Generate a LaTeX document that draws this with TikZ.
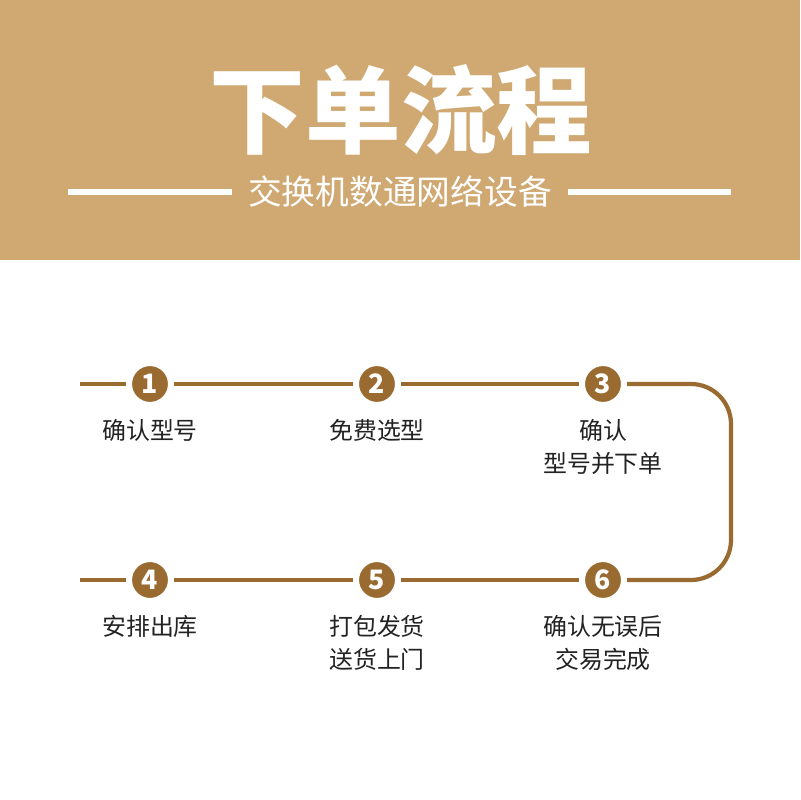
\documentclass[tikz,border=0pt]{standalone}
\usepackage{fontspec}
\setmainfont{Noto Sans CJK SC}
\usetikzlibrary{positioning}
\definecolor{ofBand}{HTML}{CFA872}
\definecolor{ofBrown}{HTML}{9A6B31}
\definecolor{ofText}{HTML}{222222}

\begin{document}
\begin{tikzpicture}[x=0.025cm,y=-0.025cm,
      num/.style={circle,fill=ofBrown,draw=white,line width=4.3pt,minimum size=1.05cm,
                  inner sep=0pt,text=white,font=\bfseries\fontsize{19}{19}\selectfont},
      lbl/.style={below=8pt of #1,anchor=north,align=center,inner sep=0pt,text=ofText,
                  font=\fontsize{17}{23.5}\selectfont},
      track/.style={draw=ofBrown,line width=3pt},
      rule/.style={draw=white,line width=3.6pt}]
    \useasboundingbox (0,0) rectangle (800,800);
    \fill[ofBand] (0,0) rectangle (800,260);
    \node[text=white,font=\bfseries\fontsize{68}{68}\selectfont] (title) at (401,110) {下单流程};
    \node[text=white,inner sep=0.4cm,font=\fontsize{24}{24}\selectfont] (sub) at (400,192) {交换机数通网络设备};
    \coordinate (rl) at (68,192);
    \coordinate (rr) at (731,192);
    \draw[rule] (rl) -- (sub.west);
    \draw[rule] (sub.east) -- (rr);
    % steps
    \coordinate (a0) at (80,384);
    \coordinate (b0) at (80,580);
    \coordinate (ne) at (731,384);
    \coordinate (se) at (731,580);
    \node[num] (n1) at (150,384) {1};
    \node[num] (n2) at (377,384) {2};
    \node[num] (n3) at (603,384) {3};
    \node[num] (n4) at (150,580) {4};
    \node[num] (n5) at (377,580) {5};
    \node[num] (n6) at (603,580) {6};
    \draw[track] (a0) -- (n1);
    \draw[track] (n1) -- (n2);
    \draw[track] (n2) -- (n3);
    \draw[track,rounded corners=1cm] (n3) -- (ne) -- (se) -- (n6);
    \draw[track] (n6) -- (n5);
    \draw[track] (n5) -- (n4);
    \draw[track] (n4) -- (b0);
    \node[lbl=n1] (l1) {确认型号};
    \node[lbl=n2] (l2) {免费选型};
    \node[lbl=n3] (l3) {确认\\型号并下单};
    \node[lbl=n4] (l4) {安排出库};
    \node[lbl=n5] (l5) {打包发货\\送货上门};
    \node[lbl=n6] (l6) {确认无误后\\交易完成};
\end{tikzpicture}
\end{document}
